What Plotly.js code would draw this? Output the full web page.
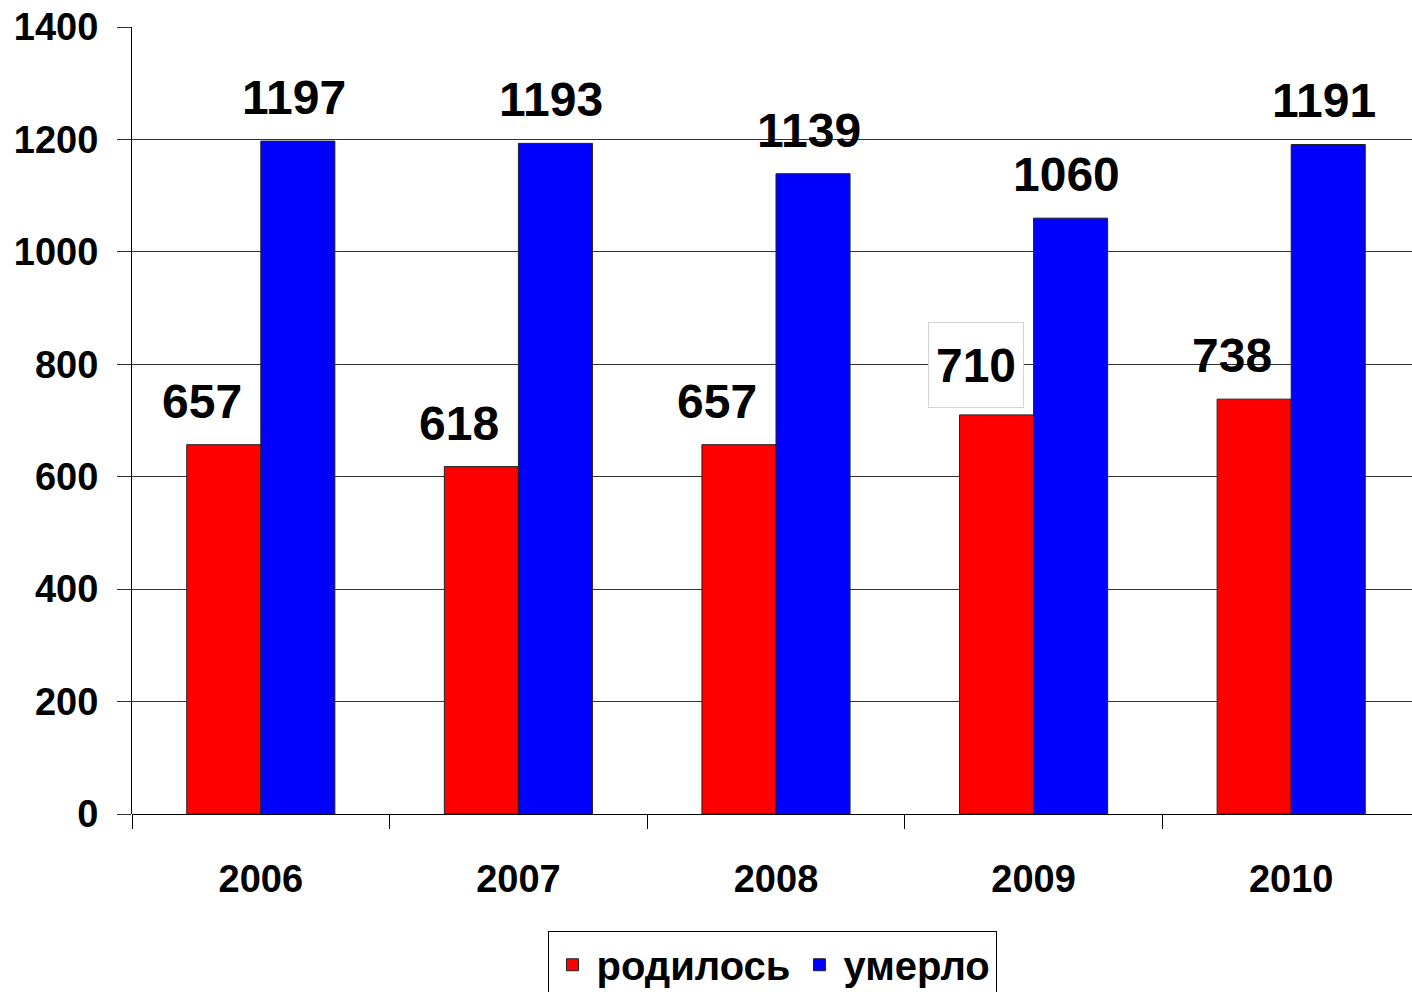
<!DOCTYPE html>
<html>
<head>
<meta charset="utf-8">
<script src="https://cdn.plot.ly/plotly-3.0.1.min.js"></script>
<style>
html,body{margin:0;padding:0;background:#fff;}
#chart{width:1412px;height:992px;}
</style>
</head>
<body>
<div id="chart"></div>
<script>
const years = ['2006', '2007', '2008', '2009', '2010'];
const born = [657, 618, 657, 710, 738];
const died = [1197, 1193, 1139, 1060, 1191];
const seriesNames = ['родилось', 'умерло'];
const yTicks = [0, 200, 400, 600, 800, 1000, 1200, 1400];

const FONT = 'Arial, "Liberation Sans", sans-serif';

const traces = [
  {
    type: 'bar', name: seriesNames[0], x: years, y: born,
    marker: {color: '#ff0000', line: {color: '#222', width: 1}},
    hoverinfo: 'none'
  },
  {
    type: 'bar', name: seriesNames[1], x: years, y: died,
    marker: {color: '#0000ff', line: {color: '#222', width: 1}},
    hoverinfo: 'none'
  }
];

// category axis: annotation x is the category's serial index
const annotations = [];
years.forEach((yr, i) => {
  const boxed = (i === 3);
  const a = {
    x: i, y: born[i], xref: 'x', yref: 'y',
    text: '<b>' + born[i] + '</b>', showarrow: false,
    xanchor: 'center', yanchor: 'bottom',
    xshift: -59, yshift: 15,
    font: {family: FONT, size: 48, color: '#000000'}
  };
  if (boxed) {
    a.bordercolor = '#d4d4d4';
    a.borderwidth = 1;
    a.borderpad = 6;
    a.width = 82;
    a.height = 72;
    a.bgcolor = '#ffffff';
    a.yshift = 7;
    a.xshift = -58;
  }
  annotations.push(a);
  annotations.push({
    x: i, y: died[i], xref: 'x', yref: 'y',
    text: '<b>' + died[i] + '</b>', showarrow: false,
    xanchor: 'center', yanchor: 'bottom',
    xshift: 33, yshift: 15,
    font: {family: FONT, size: 48, color: '#000000'}
  });
});

const layout = {
  width: 1412, height: 992,
  paper_bgcolor: '#ffffff', plot_bgcolor: '#ffffff',
  margin: {l: 132, r: 0, t: 27, b: 178, autoexpand: false},
  barmode: 'group', bargap: 0.425, bargroupgap: 0,
  showlegend: true,
  font: {family: FONT, color: '#000'},
  xaxis: {
    type: 'category', range: [-0.5, 4.469],
    showgrid: false, zeroline: false,
    showline: false,
    ticks: 'outside', ticklen: 14, tickwidth: 1, tickcolor: '#000',
    tickson: 'boundaries',
    ticklabelstandoff: 39,
    tickfont: {family: FONT, size: 38, color: '#000', weight: 'bold'}
  },
  yaxis: {
    range: [0, 1400], tickvals: yTicks, ticktext: yTicks.map(String),
    showgrid: true, gridcolor: '#333', gridwidth: 1,
    zeroline: true, zerolinecolor: '#000', zerolinewidth: 1,
    showline: true, linecolor: '#000', linewidth: 1,
    ticks: 'outside', ticklen: 14, tickwidth: 1, tickcolor: '#333',
    ticklabelstandoff: 11,
    tickfont: {family: FONT, size: 38, color: '#000', weight: 'bold'}
  },
  legend: {
    orientation: 'h', x: 0.5, xanchor: 'center', y: -0.149, yanchor: 'top',
    bordercolor: '#000', borderwidth: 1, bgcolor: '#fff',
    font: {family: FONT, size: 40, color: '#000', weight: 'bold'},
    itemwidth: 38, tracegroupgap: 0
  },
  annotations: annotations
};

Plotly.newPlot('chart', traces, layout, {displayModeBar: false, staticPlot: true});
</script>
</body>
</html>
